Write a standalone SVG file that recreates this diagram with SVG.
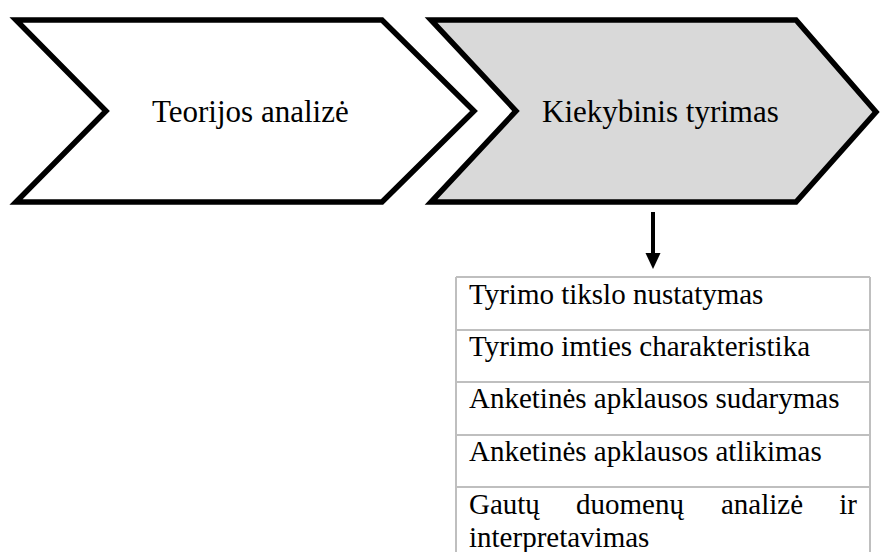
<svg xmlns="http://www.w3.org/2000/svg" width="881" height="552" viewBox="0 0 881 552">
<style>
.chev{stroke:#000;stroke-width:5.5;stroke-linejoin:miter}
.big{font-family:"Liberation Serif","Times New Roman",serif;font-size:31px;fill:#000}
.cell{font-family:"Liberation Serif","Times New Roman",serif;font-size:29px;fill:#000}
.grid{stroke:#bfbfbf;stroke-width:2;fill:none}
</style>
<rect width="881" height="552" fill="#fff"/>
<g id="teorijos">
<polygon class="chev" fill="#fff" points="16,20 382,20 474,111 382,202 16,202 106,111"/>
<text class="big" x="152" y="122">Teorijos analizė</text>
</g>
<g id="kiekybinis">
<polygon class="chev" fill="#d9d9d9" points="431,20 796,20 876,112 796,202 431,202 516,111"/>
<text class="big" x="542" y="122">Kiekybinis tyrimas</text>
</g>
<g id="connectors">
<line x1="653" y1="212" x2="653" y2="255" stroke="#000" stroke-width="4"/>
<polygon points="645.5,253 660.5,253 653,269" fill="#000"/>
</g>
<g id="steps">
<path class="grid" d="M456,277 H870 M456,330 H870 M456,382 H870 M456,435 H870 M456,487 H870 M456,277 V552 M870,277 V552"/>
<text class="cell" x="469" y="304">Tyrimo tikslo nustatymas</text>
<text class="cell" x="469" y="356">Tyrimo imties charakteristika</text>
<text class="cell" x="469" y="408">Anketinės apklausos sudarymas</text>
<text class="cell" x="469" y="461">Anketinės apklausos atlikimas</text>
<text class="cell" x="469" y="514">Gautų</text>
<text class="cell" x="576" y="514">duomenų</text>
<text class="cell" x="721" y="514">analizė</text>
<text class="cell" x="857" y="514" text-anchor="end">ir</text>
<text class="cell" x="469" y="547">interpretavimas</text>
</g>
</svg>
